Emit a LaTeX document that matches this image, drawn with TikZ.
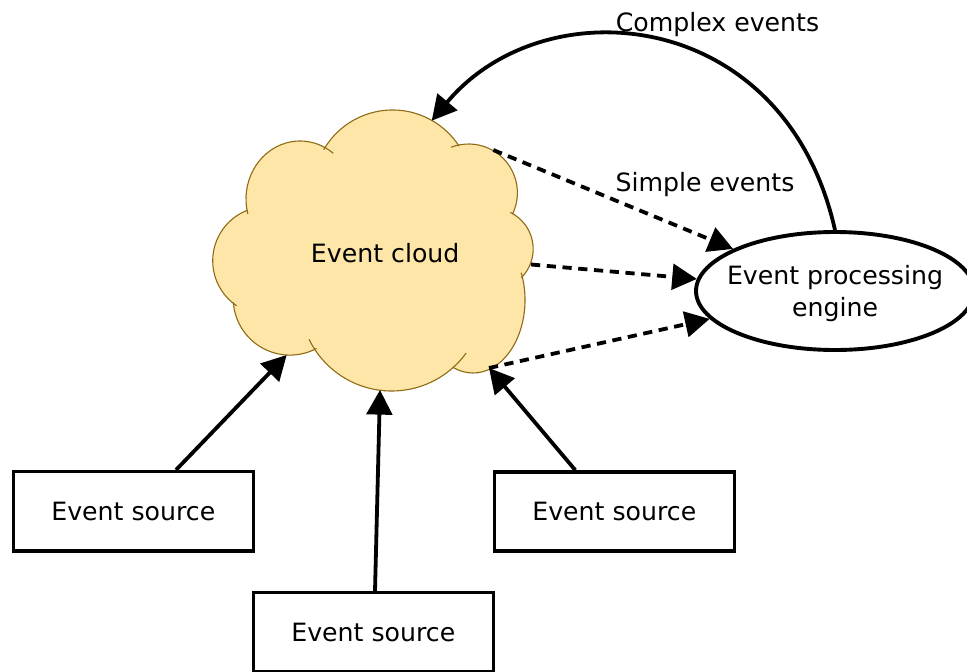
\documentclass[tikz,border=0pt]{standalone}
\usepackage{fontspec}
\setmainfont{DejaVu Sans}
\usetikzlibrary{arrows.meta,shapes.geometric}
\definecolor{cloudfill}{RGB}{253,230,167}
\definecolor{cloudedge}{RGB}{143,106,20}
\begin{document}
\begin{tikzpicture}[x=0.5pt,y=0.5pt,
  font=\fontsize{12.6}{14.8}\selectfont,
  srcbox/.style={draw, line width=1.7pt, minimum width=120pt,
    minimum height=39.65pt, inner sep=0pt},
  engine/.style={draw, ellipse, line width=1.95pt, minimum width=139pt,
    minimum height=59pt, inner sep=0pt},
  flow/.style={line width=1.9pt, -{Triangle[length=12.3pt,width=12.8pt]}},
  simple/.style={flow, dash pattern=on 4.6pt off 3.3pt},
  bump/.style={draw=cloudedge, line width=0.55pt},
]
\useasboundingbox (0,0) rectangle (967,671);

% --- the event cloud: union of bumps, filled, then each bump outlined
\fill[cloudfill]
  (392.5,481.6) circle[radius=79.4]
  (468.6,478.2) circle[radius=48.8]
  (492.5,422)   circle[radius=40.7]
  (473,371)     ellipse[x radius=52,y radius=73]
  (391.7,372)   circle[radius=92]
  (289.9,372.6) circle[radius=56.7]
  (266.9,410.2) circle[radius=54.2]
  (300,472)     ellipse[x radius=54,y radius=58];
\draw[bump] (392.5,481.6) ++(150:79.4) arc[start angle=150,end angle=33,radius=79.4];
\draw[bump] (468.6,478.2) ++(111:48.8) arc[start angle=111,end angle=-26,radius=48.8];
\draw[bump] (492.5,422) ++(64:40.7) arc[start angle=64,end angle=-45,radius=40.7];
\draw[bump] (473,371) ++(22:52 and 73) arc[start angle=22,end angle=-113,x radius=52,y radius=73];
\draw[bump] (391.7,372) ++(-36:92) arc[start angle=-36,end angle=-154,radius=92];
\draw[bump] (289.9,372.6) ++(-62:56.7) arc[start angle=-62,end angle=-176,radius=56.7];
\draw[bump] (266.9,410.2) ++(236:54.2) arc[start angle=236,end angle=111,radius=54.2];
\draw[bump] (300,472) ++(195:54 and 58) arc[start angle=195,end angle=52,x radius=54,y radius=58];
\node[anchor=base] (cloud) at (385.2,408.7) {Event cloud};

% points on the cloud rim where connectors meet it
\coordinate (cTop) at (431.7,550.3);
\coordinate (cS1)  at (493.3,521);
\coordinate (cS2)  at (531,406.5);
\coordinate (cS3)  at (489,303);
\coordinate (cIn1) at (286.7,316);
\coordinate (cIn2) at (380,281);

% --- nodes
\node[engine] (eng) at (835,380) {};
\node[align=center, inner sep=0pt, font=\fontsize{12.6}{16}\selectfont]
  (engText) at ([yshift=-1.5pt]eng.center) {Event processing\\engine};
\node[srcbox] (src1) at (133.3,159.7) {Event source};
\node[srcbox] (src2) at (614.3,159.5) {Event source};
\node[srcbox] (src3) at (373.3,38.7) {Event source};

% --- labels
\node[anchor=base] (lblComplex) at (717.5,639.3) {Complex events};
\node[anchor=base] (lblSimple)  at (705,479.3) {Simple events};

% --- connectors
\draw[flow] ([xshift=21.35pt]src1.north) -- (cIn1);
\draw[flow] ([xshift=0.85pt]src3.north) -- (cIn2);
\draw[flow] ([xshift=-19.5pt]src2.north) -- (cS3);
\draw[simple] (cS1) -- (eng);
\draw[simple] (cS2) -- (eng);
\draw[simple] (cS3) -- (eng);
\draw[flow] (eng.north) .. controls (785,664) and (545,686) .. (cTop);
\end{tikzpicture}
\end{document}
